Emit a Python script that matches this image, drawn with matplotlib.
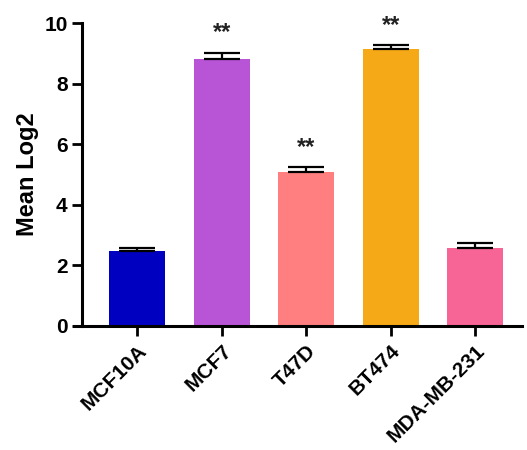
import matplotlib
matplotlib.use('Agg')
import matplotlib.pyplot as plt

cell_lines = ['MCF10A', 'MCF7', 'T47D', 'BT474', 'MDA-MB-231']
mean_log2 = [2.49, 8.80, 5.09, 9.14, 2.56]
err_upper = [0.08, 0.23, 0.15, 0.13, 0.19]
stars = ['', '**', '**', '**', '']
colors = ['#0000C0', '#B855D6', '#FF7F80', '#F5A917', '#F76496']

plt.rcParams['font.family'] = ['Liberation Sans', 'DejaVu Sans']
plt.rcParams['font.weight'] = 'bold'

fig = plt.figure(figsize=(5.27, 4.5), dpi=100)
ax = fig.add_axes([0.156, 0.2756, 0.834, 0.673])

x = list(range(len(cell_lines)))
ax.bar(x, mean_log2, width=0.66, color=colors, zorder=2)
ax.errorbar(x, mean_log2, yerr=[[0] * len(x), err_upper], fmt='none',
            ecolor='black', elinewidth=1.6, capsize=13, capthick=1.6, zorder=3)
for xi, m, e, s in zip(x, mean_log2, err_upper, stars):
    if s:
        ax.text(xi, m + e + 0.65, s, ha='center', va='center', fontsize=17,
                fontweight='bold', color='#222222')

ax.set_xlim(-0.65, 4.55)
ax.set_ylim(0, 10)
ax.set_yticks([0, 2, 4, 6, 8, 10])
ax.set_xticks(x)
ax.set_xticklabels(cell_lines, rotation=45, ha='right', rotation_mode='anchor',
                   fontsize=15, fontweight='bold')
ax.tick_params(axis='y', labelsize=15, width=2, length=7)
ax.tick_params(axis='x', width=2, length=7, pad=4)
for lab in ax.get_yticklabels():
    lab.set_fontweight('bold')
ax.set_ylabel('Mean Log2', fontsize=17, fontweight='bold', labelpad=4)

for side in ['top', 'right']:
    ax.spines[side].set_visible(False)
for side in ['left', 'bottom']:
    ax.spines[side].set_linewidth(2.2)
ax.spines['bottom'].set_bounds(-0.75, 4.55)

fig.savefig('out.png', dpi=100)
